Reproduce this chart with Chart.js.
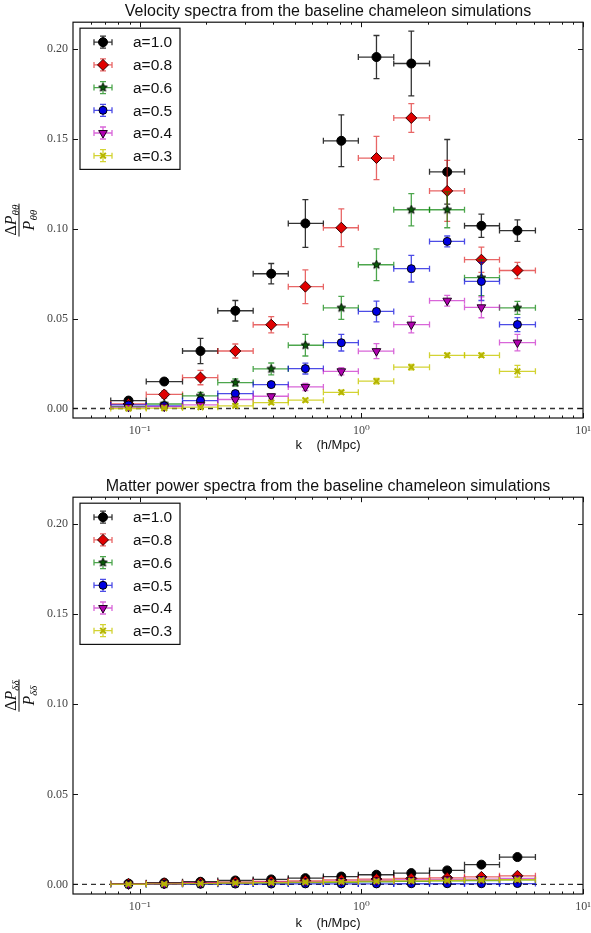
<!DOCTYPE html>
<html>
<head>
<meta charset="utf-8">
<title>Chameleon spectra</title>
<script src="https://cdn.jsdelivr.net/npm/chart.js@4.4.0/dist/chart.umd.min.js"></script>
<style>
  html, body { margin: 0; padding: 0; background: #fff; }
  .panel { position: absolute; left: 0; width: 591px; }
  #topPanel { top: 0; height: 455px; }
  #bottomPanel { top: 455px; height: 478px; }
</style>
</head>
<body>
<div class="panel" id="topPanel"><canvas id="velocityChart" width="591" height="455"></canvas></div>
<div class="panel" id="bottomPanel"><canvas id="matterChart" width="591" height="478"></canvas></div>
<script>
// ---- data ----
const seriesLabels = ['a=1.0', 'a=0.8', 'a=0.6', 'a=0.5', 'a=0.4', 'a=0.3'];

// k bins (h/Mpc): centres and bin edges
const kCenters = [0.089, 0.129, 0.188, 0.270, 0.392, 0.559, 0.812, 1.17, 1.68, 2.44, 3.48, 5.06];
const kLow     = [0.074, 0.107, 0.156, 0.225, 0.325, 0.468, 0.674, 0.969, 1.40, 2.03, 2.92, 4.20];
const kHigh    = [0.107, 0.156, 0.225, 0.325, 0.468, 0.674, 0.969, 1.40, 2.03, 2.92, 4.20, 6.10];

// velocity spectra  dP/P
const vel10 = [0.0044, 0.0150, 0.0320, 0.0544, 0.0750, 0.1030, 0.1490, 0.1956, 0.1920, 0.1317, 0.1017, 0.0990];
const vel08 = [0.0025, 0.0078, 0.0172, 0.0320, 0.0466, 0.0678, 0.1006, 0.1394, 0.1617, 0.1211, 0.0828, 0.0768];
const vel06 = [0.0010, 0.0025, 0.0070, 0.0144, 0.0220, 0.0352, 0.0560, 0.0800, 0.1106, 0.1106, 0.0728, 0.0560];
const vel05 = [0.0020, 0.0015, 0.0044, 0.0083, 0.0133, 0.0222, 0.0366, 0.0540, 0.0778, 0.0930, 0.0707, 0.0467];
const vel04 = [0.0008, 0.0010, 0.0020, 0.0050, 0.0068, 0.0120, 0.0207, 0.0319, 0.0467, 0.0600, 0.0563, 0.0367];
const vel03 = [0.0000, 0.0002, 0.0007, 0.0015, 0.0033, 0.0046, 0.0090, 0.0152, 0.0230, 0.0296, 0.0296, 0.0207];

const velErr10 = [0.0015, 0.0015, 0.0070, 0.0057, 0.0057, 0.0133, 0.0144, 0.0120, 0.0180, 0.0180, 0.0065, 0.0060];
const velErr08 = [0.0010, 0.0020, 0.0040, 0.0039, 0.0045, 0.0094, 0.0105, 0.0120, 0.0080, 0.0170, 0.0070, 0.0045];
const velErr06 = [0.0008, 0.0010, 0.0020, 0.0020, 0.0033, 0.0060, 0.0064, 0.0088, 0.0090, 0.0100, 0.0100, 0.0036];
const velErr05 = [0.0008, 0.0008, 0.0015, 0.0015, 0.0015, 0.0030, 0.0046, 0.0058, 0.0074, 0.0030, 0.0106, 0.0039];
const velErr04 = [0.0005, 0.0005, 0.0008, 0.0010, 0.0015, 0.0020, 0.0020, 0.0042, 0.0046, 0.0030, 0.0058, 0.0046];
const velErr03 = [0.0005, 0.0005, 0.0005, 0.0008, 0.0010, 0.0010, 0.0012, 0.0015, 0.0015, 0.0012, 0.0012, 0.0033];

// matter power spectra  dP/P
const mat10 = [0.0005, 0.0010, 0.0015, 0.0022, 0.0028, 0.0035, 0.0044, 0.0054, 0.0063, 0.0078, 0.0110, 0.0152];
const mat08 = [0.0003, 0.0006, 0.0010, 0.0013, 0.0017, 0.0020, 0.0025, 0.0030, 0.0033, 0.0037, 0.0042, 0.0048];
const mat06 = [0.0000, 0.0002, 0.0004, 0.0006, 0.0008, 0.0010, 0.0012, 0.0015, 0.0017, 0.0020, 0.0022, 0.0025];
const mat05 = [0.0000, 0.0001, 0.0001, 0.0002, 0.0002, 0.0003, 0.0003, 0.0003, 0.0004, 0.0004, 0.0004, 0.0005];
const mat04 = [0.0002, 0.0004, 0.0007, 0.0010, 0.0013, 0.0016, 0.0019, 0.0022, 0.0025, 0.0028, 0.0030, 0.0033];
const mat03 = [0.0001, 0.0003, 0.0005, 0.0008, 0.0010, 0.0013, 0.0015, 0.0018, 0.0020, 0.0022, 0.0024, 0.0026];
const matErr = [0.0005, 0.0005, 0.0005, 0.0005, 0.0005, 0.0005, 0.0005, 0.0006, 0.0006, 0.0006, 0.0007, 0.0008];

// axes
const xTicks = [0.1, 1, 10];
const xTickLabels = ['10\u207B\u00B9', '10\u2070', '10\u00B9'];
const yTicks = [0.00, 0.05, 0.10, 0.15, 0.20];

// ---- styles ----
const SANS = "'Liberation Sans', Arial, sans-serif";
const SERIF = "'Liberation Serif', 'DejaVu Serif', serif";

function starMarker(fill, size) {
    const c = document.createElement('canvas');
    c.width = c.height = size;
    const g = c.getContext('2d');
    const r = size / 2 - 1, cx = size / 2;
    g.beginPath();
    for (let i = 0; i < 10; i++) {
        const rr = i % 2 ? r * 0.45 : r;
        const ang = -Math.PI / 2 + i * Math.PI / 5;
        g.lineTo(cx + rr * Math.cos(ang), cx + rr * Math.sin(ang));
    }
    g.closePath();
    g.fillStyle = fill;
    g.fill();
    g.strokeStyle = '#000';
    g.lineWidth = 0.9;
    g.stroke();
    return c;
}

const seriesStyles = [
    { fill: '#000000', bar: 'rgba(0,0,0,0.8)',       pointStyle: 'circle',   radius: 4.5, rotation: 0,   border: '#000', borderWidth: 1 },
    { fill: '#e00000', bar: 'rgba(220,20,20,0.65)',  pointStyle: 'rectRot',  radius: 5.5, rotation: 0,   border: '#300', borderWidth: 1 },
    { fill: '#006000', bar: 'rgba(0,128,0,0.7)',     pointStyle: starMarker('#0a5a0a', 11), radius: 5, rotation: 0, border: '#000', borderWidth: 1 },
    { fill: '#0000e0', bar: 'rgba(0,0,220,0.7)',     pointStyle: 'circle',   radius: 4,   rotation: 0,   border: '#000', borderWidth: 1 },
    { fill: '#b000b0', bar: 'rgba(191,0,191,0.6)',   pointStyle: 'triangle', radius: 5,   rotation: 180, border: '#200020', borderWidth: 1 },
    { fill: '#bfbf00', bar: 'rgba(200,200,0,0.8)',   pointStyle: 'crossRot', radius: 4,   rotation: 0,   border: '#b5b500', borderWidth: 2 }
];

function buildDatasets(values, errors) {
    const sets = values.map((vals, s) => {
        const st = seriesStyles[s];
        return {
            label: seriesLabels[s],
            data: vals.map((v, i) => ({ x: kCenters[i], y: v })),
            yErr: errors[s],
            xLow: kLow,
            xHigh: kHigh,
            barColor: st.bar,
            pointStyle: st.pointStyle,
            pointRadius: st.radius,
            pointRotation: st.rotation,
            pointBackgroundColor: st.fill,
            pointBorderColor: st.border,
            pointBorderWidth: st.borderWidth,
            showLine: false,
            order: -s
        };
    });
    // dashed zero line
    sets.push({
        label: 'zero',
        data: [{ x: 0.05, y: 0 }, { x: 10, y: 0 }],
        showLine: true,
        borderColor: '#333',
        borderWidth: 1.3,
        borderDash: [5, 4],
        pointRadius: 0,
        order: 10
    });
    return sets;
}

// ---- plugins ----
const errorBarPlugin = {
    id: 'errorBars',
    beforeDatasetDraw(chart, args) {
        const ds = chart.data.datasets[args.index];
        if (!ds.yErr) return;
        const { ctx, chartArea: a, scales: { x, y } } = chart;
        ctx.save();
        ctx.beginPath();
        ctx.rect(a.left, a.top, a.right - a.left, a.bottom - a.top);
        ctx.clip();
        ctx.strokeStyle = ds.barColor;
        ctx.lineWidth = 1.3;
        const cap = 3;
        ds.data.forEach((p, i) => {
            const px = x.getPixelForValue(p.x), py = y.getPixelForValue(p.y);
            const xl = x.getPixelForValue(ds.xLow[i]), xh = x.getPixelForValue(ds.xHigh[i]);
            const yl = y.getPixelForValue(p.y - ds.yErr[i]), yh = y.getPixelForValue(p.y + ds.yErr[i]);
            ctx.beginPath();
            ctx.moveTo(xl, py); ctx.lineTo(xh, py);
            ctx.moveTo(xl, py - cap); ctx.lineTo(xl, py + cap);
            ctx.moveTo(xh, py - cap); ctx.lineTo(xh, py + cap);
            ctx.moveTo(px, yl); ctx.lineTo(px, yh);
            ctx.moveTo(px - cap, yl); ctx.lineTo(px + cap, yl);
            ctx.moveTo(px - cap, yh); ctx.lineTo(px + cap, yh);
            ctx.stroke();
        });
        ctx.restore();
    }
};

const framePlugin = {
    id: 'frame',
    afterDatasetsDraw(chart) {
        const { ctx, chartArea: a, scales: { x, y } } = chart;
        ctx.save();
        ctx.strokeStyle = '#111';
        ctx.lineWidth = 1.2;
        ctx.strokeRect(a.left, a.top, a.right - a.left, a.bottom - a.top);
        ctx.lineWidth = 1;
        ctx.beginPath();
        // major x ticks, inward on bottom and top
        xTicks.forEach(v => {
            const px = Math.round(x.getPixelForValue(v)) + 0.5;
            ctx.moveTo(px, a.bottom); ctx.lineTo(px, a.bottom - 5);
            ctx.moveTo(px, a.top); ctx.lineTo(px, a.top + 5);
        });
        // minor x ticks
        for (let dec = 0.01; dec < 10; dec *= 10) {
            for (let m = 2; m <= 9; m++) {
                const v = m * dec;
                if (v <= x.min || v >= x.max) continue;
                const px = Math.round(x.getPixelForValue(v)) + 0.5;
                ctx.moveTo(px, a.bottom); ctx.lineTo(px, a.bottom - 2.5);
                ctx.moveTo(px, a.top); ctx.lineTo(px, a.top + 2.5);
            }
        }
        // y ticks, inward on left and right
        yTicks.forEach(v => {
            const py = Math.round(y.getPixelForValue(v)) + 0.5;
            ctx.moveTo(a.left, py); ctx.lineTo(a.left + 5, py);
            ctx.moveTo(a.right, py); ctx.lineTo(a.right - 5, py);
        });
        ctx.stroke();
        ctx.restore();
    }
};

const fracLabelPlugin = {
    id: 'fracLabel',
    afterDraw(chart, args, opts) {
        const { ctx, chartArea: a } = chart;
        const cx = 20, cy = (a.top + a.bottom) / 2;
        ctx.save();
        ctx.translate(cx, cy);
        ctx.rotate(-Math.PI / 2);
        ctx.fillStyle = '#111';
        ctx.textBaseline = 'alphabetic';
        const big = '16px ' + SERIF, bigIt = 'italic 16px ' + SERIF, small = 'italic 11px ' + SERIF;
        function piece(parts, baseY) {
            let w = 0;
            parts.forEach(p => { ctx.font = p.font; w += ctx.measureText(p.text).width; });
            let xx = -w / 2;
            parts.forEach(p => {
                ctx.font = p.font;
                ctx.fillText(p.text, xx, baseY + (p.dy || 0));
                xx += ctx.measureText(p.text).width;
            });
            return w;
        }
        const wTop = piece([{ text: '\u0394', font: big }, { text: 'P', font: bigIt }, { text: opts.sub, font: small, dy: 3 }], -4);
        const wBot = piece([{ text: 'P', font: bigIt }, { text: opts.sub, font: small, dy: 3 }], 14);
        const wl = Math.max(wTop, wBot) + 2;
        ctx.fillRect(-wl / 2, -1.5, wl, 1);
        ctx.restore();
    }
};

const boxLegendPlugin = {
    id: 'boxLegend',
    afterDraw(chart) {
        const { ctx, chartArea: a } = chart;
        const items = chart.data.datasets.filter(d => d.yErr);
        const left = a.left + 7, top = a.top + 6, w = 100, rowH = 22.7;
        const h = items.length * rowH + 5;
        ctx.save();
        ctx.fillStyle = '#fff';
        ctx.fillRect(left, top, w, h);
        ctx.strokeStyle = '#111';
        ctx.lineWidth = 1.2;
        ctx.strokeRect(left, top, w, h);
        items.forEach((d, i) => {
            const my = top + 14 + i * rowH, mx = left + 23;
            ctx.strokeStyle = d.barColor;
            ctx.lineWidth = 1.3;
            ctx.beginPath();
            ctx.moveTo(mx - 9, my); ctx.lineTo(mx + 9, my);
            ctx.moveTo(mx - 9, my - 3); ctx.lineTo(mx - 9, my + 3);
            ctx.moveTo(mx + 9, my - 3); ctx.lineTo(mx + 9, my + 3);
            ctx.moveTo(mx, my - 6); ctx.lineTo(mx, my + 6);
            ctx.moveTo(mx - 3, my - 6); ctx.lineTo(mx + 3, my - 6);
            ctx.moveTo(mx - 3, my + 6); ctx.lineTo(mx + 3, my + 6);
            ctx.stroke();
            ctx.fillStyle = d.pointBackgroundColor;
            ctx.strokeStyle = d.pointBorderColor;
            ctx.lineWidth = d.pointBorderWidth;
            Chart.helpers.drawPoint(ctx, {
                pointStyle: d.pointStyle,
                rotation: d.pointRotation,
                radius: d.pointRadius,
                borderWidth: d.pointBorderWidth
            }, mx, my);
            ctx.fillStyle = '#111';
            ctx.font = '15.5px ' + SANS;
            ctx.textBaseline = 'middle';
            ctx.textAlign = 'left';
            ctx.fillText(d.label, left + 53, my + 1);
        });
        ctx.restore();
    }
};

function makeOptions(titleText, sub, topPad, xHeight) {
    return {
        responsive: false,
        animation: false,
        events: [],
        layout: { padding: { left: 0, right: 8, top: topPad, bottom: 0 } },
        plugins: {
            legend: { display: false },
            tooltip: { enabled: false },
            title: {
                display: true,
                text: titleText,
                fullSize: false,
                color: '#111',
                font: { family: SANS, size: 16, weight: 'normal' },
                padding: { top: 2, bottom: 1 }
            },
            fracLabel: { sub: sub }
        },
        scales: {
            x: {
                type: 'logarithmic',
                min: 0.05,
                max: 10,
                grid: { display: false, drawTicks: false },
                border: { display: false },
                ticks: {
                    padding: 6,
                    color: '#444',
                    autoSkip: false,
                    maxRotation: 0,
                    font: { family: SERIF, size: 12 },
                    callback: (v) => { const i = xTicks.indexOf(v); return i >= 0 ? xTickLabels[i] : ''; }
                },
                afterBuildTicks: (s) => { s.ticks = xTicks.map(v => ({ value: v })); },
                afterFit: (s) => { s.height = xHeight; s.paddingLeft = 0; s.paddingRight = 0; },
                title: {
                    display: true,
                    text: 'k    (h/Mpc)',
                    color: '#111',
                    font: { family: SANS, size: 13 },
                    padding: { top: 0, bottom: 2 }
                }
            },
            y: {
                min: -0.0053,
                max: 0.215,
                grid: { display: false, drawTicks: false },
                border: { display: false },
                ticks: {
                    padding: 5,
                    color: '#444',
                    font: { family: SERIF, size: 12 },
                    callback: (v) => v.toFixed(2)
                },
                afterBuildTicks: (s) => { s.ticks = yTicks.map(v => ({ value: v })); },
                afterFit: (s) => { s.width = 73; s.paddingTop = 0; s.paddingBottom = 0; }
            }
        }
    };
}

const plugins = [errorBarPlugin, framePlugin, fracLabelPlugin, boxLegendPlugin];

// Velocity chart
const velocityCtx = document.getElementById('velocityChart').getContext('2d');
const velocityChart = new Chart(velocityCtx, {
    type: 'scatter',
    data: {
        datasets: buildDatasets(
            [vel10, vel08, vel06, vel05, vel04, vel03],
            [velErr10, velErr08, velErr06, velErr05, velErr04, velErr03]
        )
    },
    options: makeOptions('Velocity spectra from the baseline chameleon simulations', '\u03B8\u03B8', 0, 37),
    plugins: plugins
});

// Matter power chart
const matterCtx = document.getElementById('matterChart').getContext('2d');
const matterChart = new Chart(matterCtx, {
    type: 'scatter',
    data: {
        datasets: buildDatasets(
            [mat10, mat08, mat06, mat05, mat04, mat03],
            [matErr, matErr, matErr, matErr, matErr, matErr]
        )
    },
    options: makeOptions('Matter power spectra from the baseline chameleon simulations', '\u03B4\u03B4', 20, 39),
    plugins: plugins
});
</script>
</body>
</html>
